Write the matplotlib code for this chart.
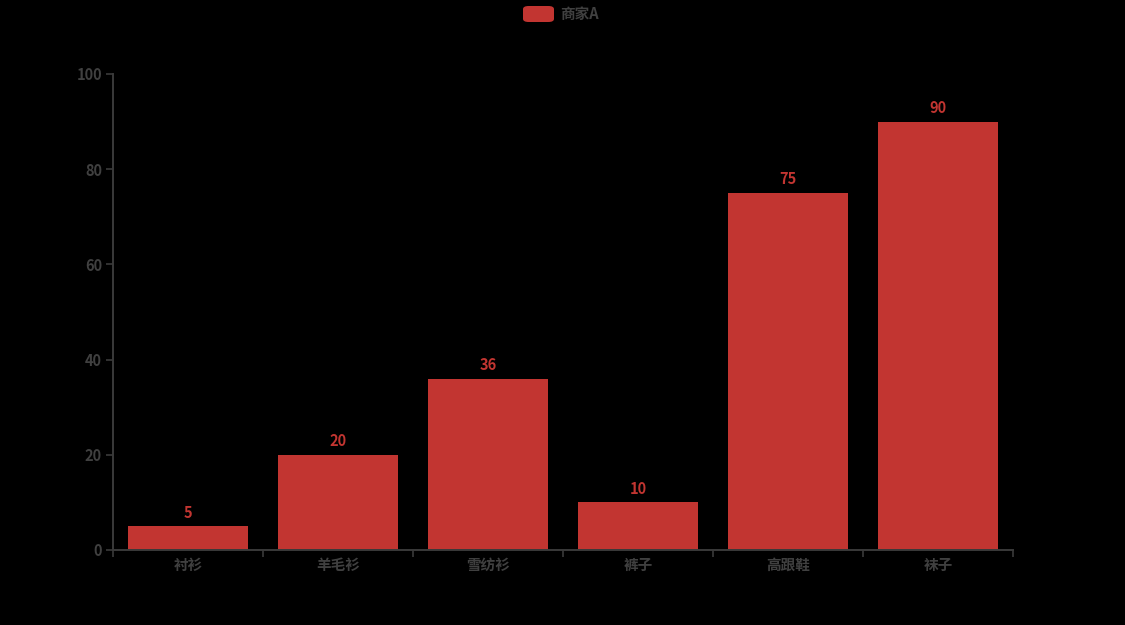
import matplotlib
matplotlib.use("Agg")
import matplotlib.pyplot as plt
from matplotlib.patches import FancyBboxPatch

plt.rcParams['font.family'] = ['Noto Sans CJK SC', 'DejaVu Sans']

categories = ["衬衫", "羊毛衫", "雪纺衫", "裤子", "高跟鞋", "袜子"]
values = [5, 20, 36, 10, 75, 90]
series_name = "商家A"
yticks = [0, 20, 40, 60, 80, 100]

bar_color = "#c23531"
axis_color = "#3a3a3a"
text_color = "#404040"
fs = 10.5

fig = plt.figure(figsize=(11.25, 6.25), dpi=100, facecolor="black")
ax = fig.add_axes([113/1125, 75/625, 900/1125, 476/625], facecolor="black")

x = list(range(len(categories)))
ax.bar(x, values, width=0.8, color=bar_color, zorder=2)
for xi, v in zip(x, values):
    ax.annotate(str(v), (xi, v), xytext=(0, 4), textcoords="offset points",
                ha="center", va="bottom", color=bar_color, fontsize=fs, fontweight="bold")

ax.set_xlim(-0.5, len(categories) - 0.5)
ax.set_ylim(0, 100)
ax.set_yticks(yticks)
ax.set_yticklabels([str(t) for t in yticks], color=text_color, fontsize=fs, fontweight="bold")

ax.set_xticks(x)
ax.set_xticklabels(categories, color=text_color, fontsize=fs, fontweight="bold")
ax.tick_params(axis="x", which="major", length=0, pad=5)
ax.set_xticks([i - 0.5 for i in range(len(categories) + 1)], minor=True)
ax.tick_params(axis="x", which="minor", length=5, color=axis_color, width=1.2)
ax.tick_params(axis="y", length=5, color=axis_color, width=1.2, pad=3)

for s in ["top", "right"]:
    ax.spines[s].set_visible(False)
for s in ["left", "bottom"]:
    ax.spines[s].set_color(axis_color)
    ax.spines[s].set_linewidth(1.4)

# legend
lx, ly, lw, lh = 523/1125, (625-22)/625, 31/1125, 16/625
fig.patches.append(FancyBboxPatch((lx, ly), lw, lh, boxstyle="round,pad=0,rounding_size=0.005",
                                  transform=fig.transFigure, facecolor=bar_color, edgecolor="none"))
fig.text(560/1125, (625-14)/625, series_name, color=text_color, fontsize=fs,
         fontweight="bold", va="center", ha="left")

fig.savefig("out.png", dpi=100, facecolor="black")
